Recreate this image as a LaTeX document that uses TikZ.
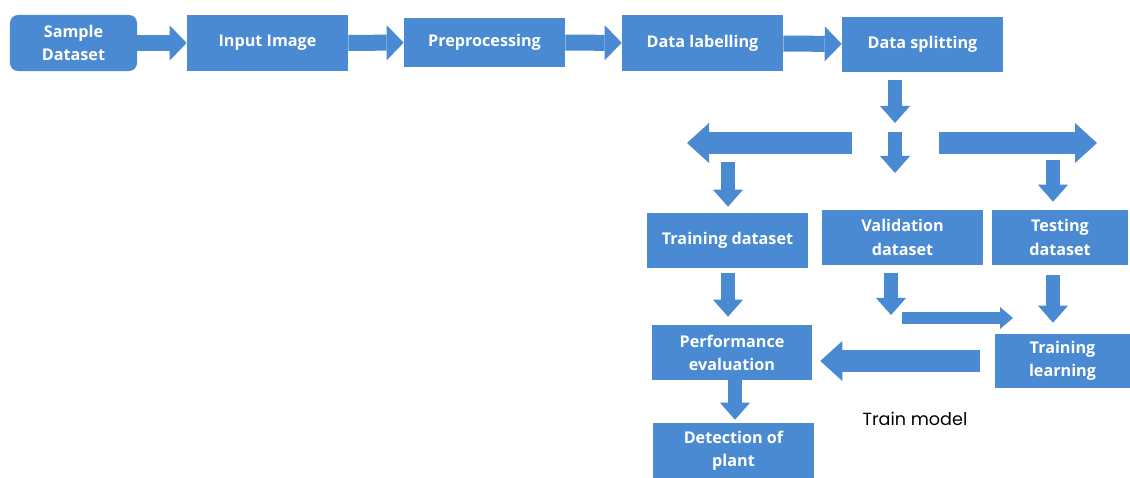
\documentclass[tikz,border=0pt]{standalone}
\usepackage{fontspec}
\setmainfont{Open Sans}
\newfontfamily\captionfont{Poppins}
\usetikzlibrary{positioning, arrows.meta}
\definecolor{flowblue}{RGB}{74,138,210}

\begin{document}
\begin{tikzpicture}[
        x=0.025cm, y=-0.025cm,
        box/.style={rectangle, fill=flowblue, minimum height=1.375cm, minimum width=4.025cm, text centered, align=center, text=white, inner sep=2pt, font=\fontsize{11.5}{16.5}\selectfont\bfseries},
        rowarrow/.style={draw=flowblue, line width=0.4cm, -{Triangle[width=0.875cm, length=0.425cm, line width=0pt]}},
        bigarrow/.style={draw=flowblue, line width=0.525cm, -{Triangle[width=1cm, length=0.55cm, line width=0pt]}},
        downarrow/.style={draw=flowblue, line width=0.35cm, -{Triangle[width=0.75cm, length=0.425cm, line width=0pt]}},
        thinarrow/.style={draw=flowblue, line width=0.275cm, -{Triangle[width=0.55cm, length=0.325cm, line width=0pt]}}
    ]
    \useasboundingbox (0,0) rectangle (1130,478);

    % Top row
    \node[box, rounded corners=0.2cm, minimum width=3.175cm, minimum height=1.4cm] (sample) at (73.5,43) {Sample\\Dataset};
    \node[box, minimum height=1.4cm] (input) at (267.5,43) {Input Image};
    \node[box, minimum height=1.225cm] (prep) at (484.5,42.5) {Preprocessing};
    \node[box, minimum height=1.4cm] (label) at (702.5,43) {Data labelling};
    \node[box] (split) at (922.5,44.5) {Data splitting};

    % Dataset row
    \node[box] (train) at (727.5,240.5) {Training dataset};
    \node[box] (valid) at (902.5,237.5) {Validation\\dataset};
    \node[box, minimum width=3.4cm] (test) at (1060,237.5) {Testing\\dataset};

    % Bottom rows
    \node[box, minimum width=4cm] (perf) at (732,352.5) {Performance\\evaluation};
    \node[box, minimum width=3.375cm, minimum height=1.35cm] (learn) at (1062.5,361) {Training\\learning};
    \node[box, minimum height=1.4cm] (detect) at (733.5,451) {Detection of\\plant};
    \node[font=\captionfont\fontsize{12.5}{15}\selectfont, text=black] (trainmodel) at (915,419) {Train model};

    % Free ends of the split arrows
    \coordinate (splitout) at (895,80);
    \coordinate (forktop) at (895,123);
    \coordinate (forkmid) at (895,132);
    \coordinate (forkbot) at (895,173);
    \coordinate (leftstart) at (852,143);
    \coordinate (leftend) at (687,143);
    \coordinate (rightstart) at (939,143);
    \coordinate (rightend) at (1097,143);
    \coordinate (traindrop) at (728,162);
    \coordinate (testdrop) at (1053,160);
    \coordinate (validdrop) at (891,273);
    \coordinate (validtip) at (891,315);
    \coordinate (validbend) at (902,318);
    \coordinate (validend) at (1013,318);

    % Arrows along the top row
    \draw[rowarrow] (sample) -- (input);
    \draw[rowarrow] (input) -- (prep);
    \draw[rowarrow] (prep) -- (label);
    \draw[rowarrow] (label) -- (split);

    % Splitting into three datasets
    \draw[downarrow] (splitout) -- (forktop);
    \draw[downarrow] (forkmid) -- (forkbot);
    \draw[bigarrow] (leftstart) -- (leftend);
    \draw[bigarrow] (rightstart) -- (rightend);
    \draw[downarrow, shorten >=0.15cm] (traindrop) -- (traindrop |- train.north);
    \draw[downarrow, shorten >=0.2cm] (testdrop) -- (testdrop |- test.north);

    % Towards training and evaluation
    \draw[downarrow, shorten <=0.125cm, shorten >=0.2cm] (train.south -| traindrop) -- (traindrop |- perf.north);
    \draw[downarrow] (validdrop) -- (validtip);
    \draw[thinarrow] (validbend) -- (validend);
    \draw[downarrow, shorten <=0.25cm, shorten >=0.275cm] (test.south -| testdrop) -- (testdrop |- learn.north);
    \draw[bigarrow, shorten <=0.375cm, shorten >=0.2cm] (learn.west) -- (learn.west -| perf.east);
    \draw[downarrow, shorten >=0.075cm] (perf.south) ++(3,0) coordinate (perfout) -- (perfout |- detect.north);

\end{tikzpicture}
\end{document}
